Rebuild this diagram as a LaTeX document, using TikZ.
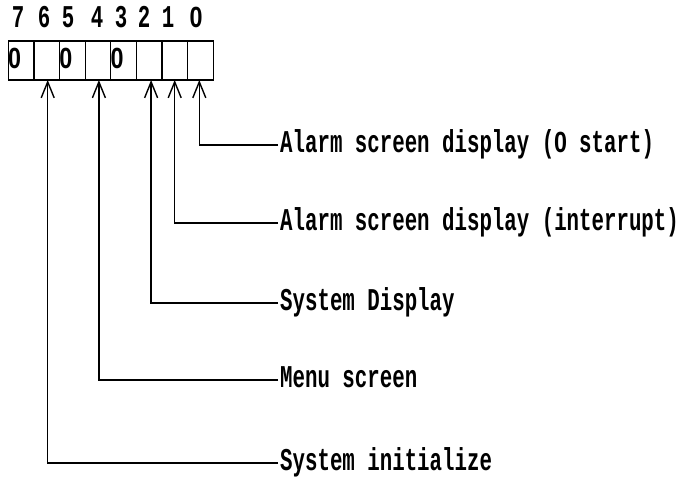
\documentclass[tikz,border=0pt]{standalone}
\usepackage{fontspec}
\usetikzlibrary{arrows.meta}
\newfontfamily\diagfont[FakeStretch=0.655]{Liberation Mono}
\newfontfamily\zerofont[FakeStretch=0.8,Scale=0.92]{Liberation Sans}
\newcommand\plainzero{\makebox[12.45pt]{\zerofont\bfseries 0}}
\tikzset{
  txt/.style={font=\diagfont\bfseries\fontsize{31.7}{34}\selectfont},
  cell/.style={draw, line width=1.2pt, minimum width=25.6pt, minimum height=39pt, inner sep=0pt, outer sep=0pt},
  lbl/.style={txt, anchor=west, inner xsep=2pt, inner ysep=0pt, text height=18pt, text depth=4pt},
  digit/.style={txt, anchor=base, inner sep=0pt},
  zero/.style={txt, anchor=base west, inner sep=0pt},
  conn/.style={line width=1.4pt, -{Straight Barb[length=16pt,width=13pt,line width=1.4pt]}}
}
\begin{document}
\begin{tikzpicture}[x=1pt,y=-1pt]
\useasboundingbox (0,0) rectangle (684,479);
% register cells (bit 7 .. 0)
\foreach \b [count=\k from 0] in {7,6,5,4,3,2,1,0}{
  \node[cell] (c\b) at ({21.1+25.6*\k},60.5) {};
}
% bit numbers
\node[digit] (d7) at (18,27) {7};
\node[digit] (d6) at (44,27) {6};
\node[digit] (d5) at (68,27) {5};
\node[digit] (d4) at (97,27) {4};
\node[digit] (d3) at (121,27) {3};
\node[digit] (d2) at (144,27) {2};
\node[digit] (d1) at (168,27) {1};
\node[digit] (d0) at (196,27) {\plainzero};
% fixed zeros
\node[zero] (z7) at ([xshift=0pt]c7.west |- 0,68) {\plainzero};
\node[zero] (z5) at ([xshift=0pt]c5.west |- 0,68) {\plainzero};
\node[zero] (z3) at ([xshift=0pt]c3.west |- 0,68) {\plainzero};
% labels
\node[lbl] (l0) at (278,145) {Alarm screen display (\plainzero\ start)};
\node[lbl] (l1) at (278,223) {Alarm screen display (interrupt)};
\node[lbl] (l2) at (278,303) {System Display};
\node[lbl] (l4) at (278,380) {Menu screen};
\node[lbl] (l6) at (278,463) {System initialize};
% connectors
\draw[conn] (l0.west) -| ([xshift=-1pt]c0.south);
\draw[conn] (l1.west) -| (c1.south);
\draw[conn] (l2.west) -| ([xshift=2pt]c2.south);
\draw[conn] (l4.west) -| ([xshift=1pt]c4.south);
\draw[conn] (l6.west) -| ([xshift=1pt]c6.south);
\end{tikzpicture}
\end{document}
